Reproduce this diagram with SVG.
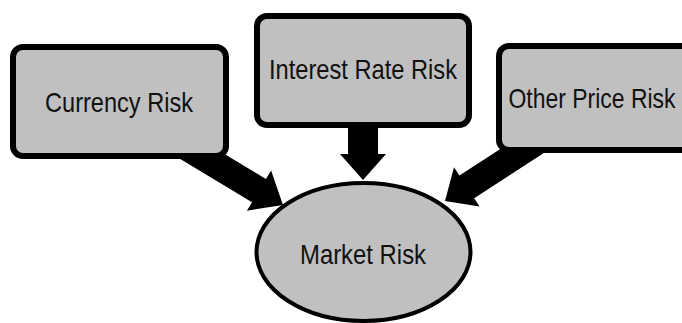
<svg xmlns="http://www.w3.org/2000/svg" width="682" height="323" viewBox="0 0 682 323">
<style>
.box{fill:#C0C0C0;stroke:#000;stroke-width:6}
.ell{fill:#C0C0C0;stroke:#000;stroke-width:4}
.lbl{font-family:"Liberation Sans",Arial,sans-serif;font-size:28px;fill:#111;text-anchor:middle}
.arr{fill:#000}
</style>
<g id="connectors">
<path class="arr" transform="translate(283,205) rotate(31)" d="M0,0 L-28,-23.5 L-28,-13.5 L-120,-13.5 L-120,13.5 L-28,13.5 L-28,23.5 Z"/>
<path class="arr" transform="translate(363,180) rotate(90)" d="M0,0 L-26,-23 L-26,-15 L-70,-15 L-70,15 L-26,15 L-26,23 Z"/>
<path class="arr" transform="translate(445,201) rotate(147)" d="M0,0 L-26,-23.5 L-26,-13.5 L-110,-13.5 L-110,13.5 L-26,13.5 L-26,23.5 Z"/>
</g>
<g id="currency">
<rect class="box" x="13" y="47" width="213" height="109" rx="10"/>
<text class="lbl" x="119" y="112" textLength="148" lengthAdjust="spacingAndGlyphs">Currency Risk</text>
</g>
<g id="interest">
<rect class="box" x="257" y="16" width="212" height="109" rx="10"/>
<text class="lbl" x="363" y="79" textLength="188" lengthAdjust="spacingAndGlyphs">Interest Rate Risk</text>
</g>
<g id="other">
<rect class="box" x="499" y="46" width="215" height="104" rx="10"/>
<text class="lbl" transform="translate(592,108) scale(0.82,1)" x="0" y="0">Other Price Risk</text>
</g>
<g id="market">
<ellipse class="ell" cx="363.5" cy="252" rx="107" ry="69"/>
<text class="lbl" x="363" y="264" textLength="126" lengthAdjust="spacingAndGlyphs">Market Risk</text>
</g>
</svg>
